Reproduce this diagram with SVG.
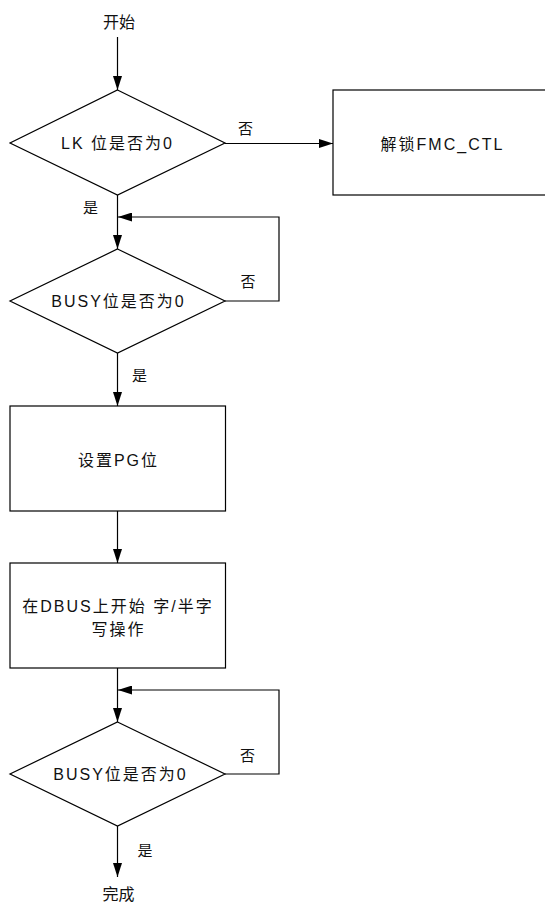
<svg xmlns="http://www.w3.org/2000/svg" width="545" height="904" viewBox="0 0 545 904">
<style>
.shape{fill:#fff;stroke:#000;stroke-width:1.2}
.conn{fill:none;stroke:#000;stroke-width:1.2}
text{font-family:"Liberation Sans","Noto Sans CJK SC",sans-serif;font-size:16px;fill:#111;text-anchor:middle}
.t{letter-spacing:2px}
.lbl{font-size:15px}
</style>
<defs>
<marker id="arr" markerUnits="userSpaceOnUse" markerWidth="14" markerHeight="9" refX="14" refY="4.5" orient="auto">
<path d="M0,0 L14,4.5 L0,9 z" fill="#000"/>
</marker>
</defs>
<rect width="545" height="904" fill="#fff"/>
<g id="connectors">
<line class="conn" x1="117.5" y1="37" x2="117.5" y2="90" marker-end="url(#arr)"/>
<line class="conn" x1="225" y1="143.5" x2="333" y2="143.5" marker-end="url(#arr)"/>
<line class="conn" x1="117.5" y1="195" x2="117.5" y2="249" marker-end="url(#arr)"/>
<polyline class="conn" points="225,301 279,301 279,217 118,217" marker-end="url(#arr)"/>
<line class="conn" x1="117.5" y1="353" x2="117.5" y2="406" marker-end="url(#arr)"/>
<line class="conn" x1="117.5" y1="511" x2="117.5" y2="563" marker-end="url(#arr)"/>
<line class="conn" x1="117.5" y1="668" x2="117.5" y2="722" marker-end="url(#arr)"/>
<polyline class="conn" points="225,774 279,774 279,690 118,690" marker-end="url(#arr)"/>
<line class="conn" x1="117.5" y1="826" x2="117.5" y2="877" marker-end="url(#arr)"/>
<text class="lbl" x="245.5" y="134">否</text>
<text class="lbl" x="90.5" y="213">是</text>
<text class="lbl" x="248" y="287">否</text>
<text class="lbl" x="139.5" y="381">是</text>
<text class="lbl" x="247.5" y="761">否</text>
<text class="lbl" x="145" y="856">是</text>
</g>
<g id="start">
<text x="119" y="28">开始</text>
</g>
<g id="check-lk">
<polygon class="shape" points="117.5,90 225,143 117.5,195 10,143"/>
<text class="t" x="117.5" y="149">LK 位是否为0</text>
</g>
<g id="unlock">
<rect class="shape" x="333" y="90" width="220" height="105"/>
<text class="t" x="442.5" y="150">解锁FMC_CTL</text>
</g>
<g id="check-busy-1">
<polygon class="shape" points="117.5,249 225,301 117.5,353 10,301"/>
<text class="t" x="118.5" y="307">BUSY位是否为0</text>
</g>
<g id="set-pg">
<rect class="shape" x="10" y="406" width="215.5" height="105"/>
<text class="t" x="118.5" y="466">设置PG位</text>
</g>
<g id="write">
<rect class="shape" x="10" y="563" width="215.5" height="105"/>
<text class="t" x="118" y="612">在DBUS上开始 字/半字</text>
<text class="t" x="118.5" y="635">写操作</text>
</g>
<g id="check-busy-2">
<polygon class="shape" points="117.5,722 225,774 117.5,826 10,774"/>
<text class="t" x="120.5" y="780">BUSY位是否为0</text>
</g>
<g id="done">
<text x="118.5" y="900">完成</text>
</g>
</svg>
